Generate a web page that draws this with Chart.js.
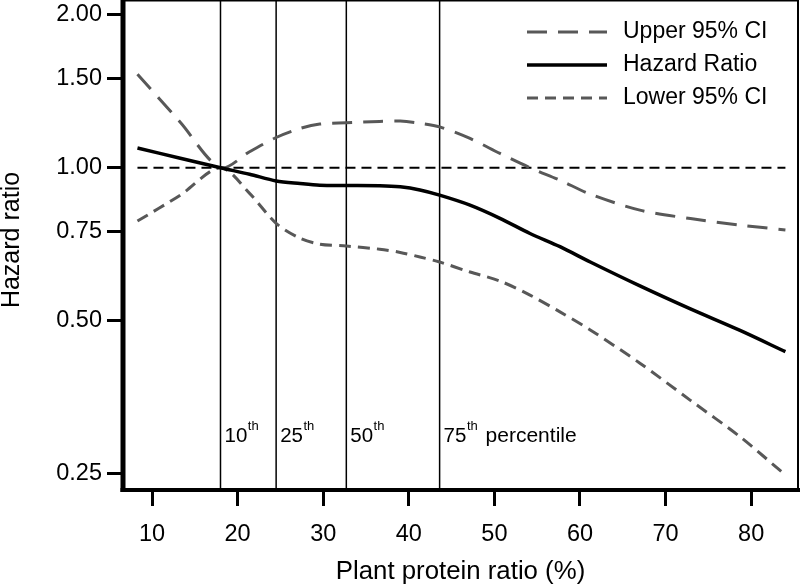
<!DOCTYPE html>
<html><head><meta charset="utf-8">
<script src="https://cdn.jsdelivr.net/npm/chart.js@4"></script>
<style>html,body{margin:0;padding:0;background:#fff}#wrap{width:800px;height:588px}</style>
</head><body><div id="wrap"><canvas id="c" width="800" height="588"></canvas></div>
<script>
// ---- data ----
const xValues   = [8.3, 13.3, 18, 21.4, 24.5, 27.3, 29.6, 32.7, 36.6, 39, 41.3, 43.6, 47.15, 50.65, 54.16, 57.66, 61.2, 67, 72.9, 78.7, 84];
const hazard    = [1.094, 1.044, 1.0, 0.971, 0.942, 0.931, 0.924, 0.923, 0.922, 0.917, 0.904, 0.883, 0.844, 0.795, 0.742, 0.699, 0.652, 0.585, 0.527, 0.478, 0.434];
const upperCI   = [1.529, 1.229, 1.0, 1.075, 1.147, 1.195, 1.219, 1.226, 1.234, 1.236, 1.224, 1.204, 1.142, 1.067, 1.0, 0.945, 0.887, 0.825, 0.794, 0.771, 0.754];
const lowerCI   = [0.785, 0.883, 1.0, 0.890, 0.777, 0.726, 0.707, 0.701, 0.691, 0.681, 0.667, 0.652, 0.623, 0.598, 0.561, 0.520, 0.479, 0.412, 0.348, 0.295, 0.248];
const refLineX  = [8.3, 84];
const refLineY  = [1, 1];
const yTicks    = [0.25, 0.5, 0.75, 1, 1.5, 2];
const xTicks    = [10, 20, 30, 40, 50, 60, 70, 80];
const percentileX      = [18, 24.5, 32.7, 43.6];
const percentileLabels = ['10', '25', '50', '75'];
const seriesLabels = ['Upper 95% CI', 'Hazard Ratio', 'Lower 95% CI'];
const yTitle = 'Hazard ratio';
const xTitle = 'Plant protein ratio (%)';

const FONT = "'Liberation Sans', Arial, sans-serif";
const GRAY = '#585858';
const pts = (xs, ys) => xs.map((x, i) => ({x, y: ys[i]}));

const decor = {
  id: 'decor',
  beforeDatasetsDraw(chart) {
    const {ctx, chartArea: a, scales: {x}} = chart;
    ctx.save();
    ctx.strokeStyle = '#000';
    ctx.lineWidth = 1.5;
    ctx.fillStyle = '#000';
    ctx.textAlign = 'left';
    ctx.textBaseline = 'alphabetic';
    percentileX.forEach((v, i) => {
      const px = x.getPixelForValue(v);
      ctx.beginPath(); ctx.moveTo(px, 0); ctx.lineTo(px, a.bottom); ctx.stroke();
      let tx = px + 4;
      ctx.font = `20.5px ${FONT}`;
      ctx.fillText(percentileLabels[i], tx, 442);
      tx += ctx.measureText(percentileLabels[i]).width + 0.5;
      ctx.font = `13px ${FONT}`;
      ctx.fillText('th', tx, 430);
      if (i === percentileX.length - 1) {
        tx += ctx.measureText('th').width + 2;
        ctx.font = `21px ${FONT}`;
        ctx.fillText(' percentile', tx, 442);
      }
    });
    // y axis title
    ctx.save();
    ctx.translate(12, 240);
    ctx.rotate(-Math.PI / 2);
    ctx.textAlign = 'center';
    ctx.textBaseline = 'middle';
    ctx.font = `25px ${FONT}`;
    ctx.fillText(yTitle, 0, 0);
    ctx.restore();
    ctx.restore();
  },
  afterDatasetsDraw(chart) {
    const {ctx, chartArea: a} = chart;
    ctx.save();
    ctx.strokeStyle = '#000';
    ctx.setLineDash([]);
    ctx.lineWidth = 1.5;
    ctx.beginPath(); ctx.moveTo(a.left, 0.75); ctx.lineTo(799, 0.75); ctx.stroke();
    ctx.lineWidth = 2;
    ctx.beginPath(); ctx.moveTo(a.right, 0); ctx.lineTo(a.right, a.bottom); ctx.stroke();
    ctx.lineWidth = 5;
    ctx.beginPath(); ctx.moveTo(a.left, 0); ctx.lineTo(a.left, a.bottom + 2); ctx.stroke();
    ctx.lineWidth = 4;
    ctx.beginPath(); ctx.moveTo(a.left - 2.5, a.bottom); ctx.lineTo(800, a.bottom); ctx.stroke();
    ctx.restore();
  },
  afterDraw(chart) {
    const {ctx} = chart;
    const styles = [
      {color: GRAY, dash: [20, 11], w: 3},
      {color: '#000', dash: [], w: 3.5},
      {color: GRAY, dash: [11, 7], w: 3}
    ];
    const rowsY = [32, 65, 98];
    ctx.save();
    seriesLabels.forEach((lab, i) => {
      const s = styles[i];
      ctx.strokeStyle = s.color; ctx.lineWidth = s.w; ctx.setLineDash(s.dash);
      ctx.beginPath(); ctx.moveTo(527, rowsY[i]); ctx.lineTo(607, rowsY[i]); ctx.stroke();
      ctx.setLineDash([]);
      ctx.fillStyle = '#000';
      ctx.font = `23px ${FONT}`;
      ctx.textAlign = 'left'; ctx.textBaseline = 'alphabetic';
      ctx.fillText(lab, 623, rowsY[i] + 6);
    });
    ctx.restore();
  }
};

new Chart(document.getElementById('c'), {
  type: 'line',
  data: {
    datasets: [
      {label: 'Hazard Ratio', data: pts(xValues, hazard), borderColor: '#000', borderWidth: 3.5, tension: 0.3, pointRadius: 0},
      {label: 'Upper 95% CI', data: pts(xValues, upperCI), borderColor: GRAY, borderWidth: 3, borderDash: [20, 11], tension: 0.3, pointRadius: 0},
      {label: 'Lower 95% CI', data: pts(xValues, lowerCI), borderColor: GRAY, borderWidth: 3, borderDash: [12, 7], tension: 0.3, pointRadius: 0},
      {label: 'ref', data: pts(refLineX, refLineY), borderColor: '#000', borderWidth: 1.8, borderDash: [10, 6], pointRadius: 0}
    ]
  },
  options: {
    responsive: false,
    animation: false,
    devicePixelRatio: 1,
    layout: {padding: {top: 1, right: 2, left: 0, bottom: 0}},
    plugins: {legend: {display: false}, tooltip: {enabled: false}},
    scales: {
      x: {
        type: 'linear', min: 6.61, max: 85.47,
        afterBuildTicks: s => { s.ticks = xTicks.map(v => ({value: v})); },
        afterFit: s => { s.height = 98; s.paddingLeft = 0; s.paddingRight = 0; },
        border: {display: false},
        grid: {drawOnChartArea: false, drawTicks: true, tickLength: 16, color: '#000', lineWidth: 3},
        ticks: {autoSkip: false, maxRotation: 0, padding: 14, color: '#000', font: {family: FONT, size: 23.5}, callback: v => String(v)},
        title: {display: true, text: xTitle, color: '#000', font: {family: FONT, size: 25.8, lineHeight: 1}, padding: {top: 0, bottom: 3}}
      },
      y: {
        type: 'logarithmic', min: 0.2317, max: 2.131,
        afterBuildTicks: s => { s.ticks = yTicks.map(v => ({value: v})); },
        afterFit: s => { s.width = 123; s.paddingTop = 0; s.paddingBottom = 0; },
        border: {display: false},
        grid: {drawOnChartArea: false, drawTicks: true, tickLength: 16, color: '#000', lineWidth: 3},
        ticks: {autoSkip: false, padding: 5, color: '#000', font: {family: FONT, size: 23.5}, callback: v => Number(v).toFixed(2)},
        title: {display: false}
      }
    }
  },
  plugins: [decor]
});
</script>
</body></html>
